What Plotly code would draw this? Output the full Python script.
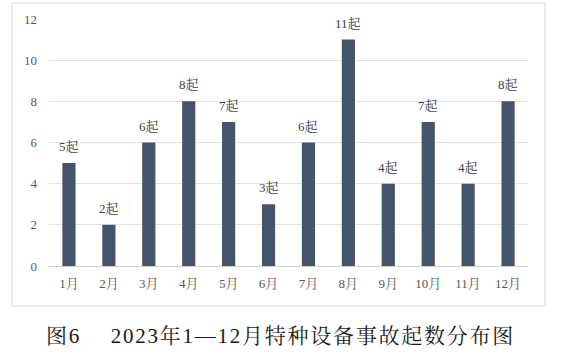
import plotly.graph_objects as go

months = ["1月", "2月", "3月", "4月", "5月", "6月", "7月", "8月", "9月", "10月", "11月", "12月"]
counts = [5, 2, 6, 8, 7, 3, 6, 11, 4, 7, 4, 8]
labels = [f"{v}起" for v in counts]
y_ticks = [0, 2, 4, 6, 8, 10, 12]
caption_parts = ["图6", "2023年1—12月特种设备事故起数分布图"]

FONT = "Liberation Serif, Noto Serif CJK SC, Noto Sans CJK SC, serif"

def spaced(s, sp="\u200a"):
    return sp.join(list(s))

caption = spaced(caption_parts[0]) + "\u2003\u2002" + spaced(caption_parts[1])

fig = go.Figure(go.Bar(
    x=months, y=counts,
    marker=dict(color="#44546A", line=dict(width=0)),
    width=0.33, hoverinfo="x+y",
))

W, H = 562, 360
L, R, T, B = 49, 528, 19, 266
pw, ph = R - L, B - T

def px(xp):
    return (xp - L) / pw

def py(yp):
    return (B - yp) / ph

annotations = [dict(text=t, x=m, y=v, xref="x", yref="y", yanchor="bottom",
                    yshift=7, showarrow=False,
                    font=dict(family=FONT, size=13, color="#404040"))
               for m, v, t in zip(months, counts, labels)]
annotations.append(dict(text=caption, xref="paper", yref="paper", x=px(279), y=py(336),
                        xanchor="center", yanchor="middle", showarrow=False,
                        font=dict(family=FONT, size=21, color="#1a1a1a")))

fig.update_layout(
    width=W, height=H,
    margin=dict(l=L, r=W - R, t=T, b=H - B),
    paper_bgcolor="white", plot_bgcolor="white",
    showlegend=False,
    font=dict(family=FONT, color="#595959"),
    xaxis=dict(tickfont=dict(size=13, color="#595959"), showgrid=False,
               showline=False, ticks="", ticklabelstandoff=8),
    yaxis=dict(range=[0, 12], tickvals=y_ticks, showgrid=True, gridcolor="#E3E3E3",
               gridwidth=1, zeroline=True, zerolinecolor="#D0D0D0", zerolinewidth=1,
               tickfont=dict(size=13, color="#595959"), ticks="", ticklabelstandoff=11),
    shapes=[dict(type="rect", xref="paper", yref="paper",
                 x0=px(12), x1=px(545), y0=py(306), y1=py(3),
                 line=dict(color="#D9D9D9", width=1), fillcolor="rgba(0,0,0,0)", layer="below")],
    annotations=annotations,
)

fig.write_html("out.html", config={"displayModeBar": False},
               post_script="document.body.style.margin='0';")
